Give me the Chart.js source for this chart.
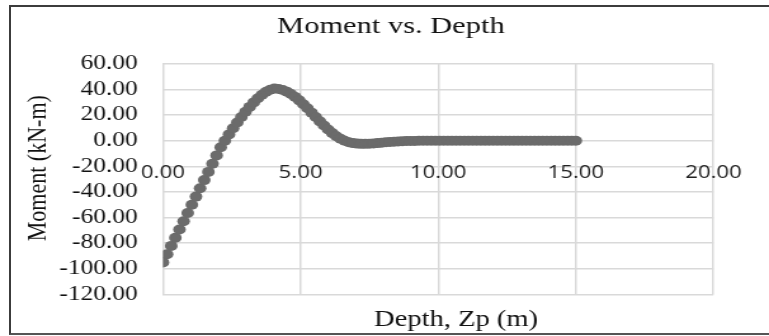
<!DOCTYPE html>
<html>
<head>
<meta charset="utf-8">
<script src="https://cdn.jsdelivr.net/npm/chart.js@4"></script>
<style>
  body { margin: 0; background: #fff; overflow: hidden; }
  #box {
    position: absolute; left: 0; top: 0;
    width: 606px; height: 336px;
    transform: scaleX(1.269); transform-origin: 0 0;
  }
  #frame {
    position: absolute; left: 9px; top: 5px; width: 800px; height: 326px;
    border-left: 2px solid #3c3c3c; border-top: 2px solid #3c3c3c; border-bottom: 2px solid #555;
    pointer-events: none;
  }
</style>
</head>
<body>
<div id="box"><canvas id="momentChart"></canvas></div>
<div id="frame"></div>
<script>
// depth (m), 0.15 m steps
const depth = [
  0, 0.15, 0.3, 0.45, 0.6, 0.75, 0.9, 1.05, 1.2, 1.35,
  1.5, 1.65, 1.8, 1.95, 2.1, 2.25, 2.4, 2.55, 2.7, 2.85,
  3, 3.15, 3.3, 3.45, 3.6, 3.75, 3.9, 4.05, 4.2, 4.35,
  4.5, 4.65, 4.8, 4.95, 5.1, 5.25, 5.4, 5.55, 5.7, 5.85,
  6, 6.15, 6.3, 6.45, 6.6, 6.75, 6.9, 7.05, 7.2, 7.35,
  7.5, 7.65, 7.8, 7.95, 8.1, 8.25, 8.4, 8.55, 8.7, 8.85,
  9, 9.15, 9.3, 9.45, 9.6, 9.75, 9.9, 10.05, 10.2, 10.35,
  10.5, 10.65, 10.8, 10.95, 11.1, 11.25, 11.4, 11.55, 11.7, 11.85,
  12, 12.15, 12.3, 12.45, 12.6, 12.75, 12.9, 13.05, 13.2, 13.35,
  13.5, 13.65, 13.8, 13.95, 14.1, 14.25, 14.4, 14.55, 14.7, 14.85,
  15
];

// moment (kN-m)
const moment = [
  -95.0, -88.6, -82.1, -75.7, -69.3, -62.9, -56.4, -50.0, -43.6, -37.1,
  -30.7, -24.3, -17.9, -11.4, -5.0, 0.1, 5.0, 9.8, 14.3, 18.6,
  22.7, 26.5, 30.0, 33.2, 36.0, 38.3, 39.9, 40.8, 40.5, 39.7,
  38.4, 36.6, 34.3, 31.6, 28.6, 25.4, 22.0, 18.6, 15.2, 11.9,
  8.8, 6.0, 3.6, 1.6, 0.0, -1.1, -1.8, -2.2, -2.4, -2.4,
  -2.3, -2.1, -1.8, -1.5, -1.2, -0.9, -0.7, -0.5, -0.3, -0.2,
  -0.1, -0.1, 0.0, 0.0, 0.0, 0.0, 0.0, 0.0, 0.0, 0.0,
  0.0, 0.0, 0.0, 0.0, 0.0, 0.0, 0.0, 0.0, 0.0, 0.0,
  0.0, 0.0, 0.0, 0.0, 0.0, 0.0, 0.0, 0.0, 0.0, 0.0,
  0.0, 0.0, 0.0, 0.0, 0.0, 0.0, 0.0, 0.0, 0.0, 0.0,
  0.0
];

const xTicks = [0, 5, 10, 15, 20];
const yTicks = [-120, -100, -80, -60, -40, -20, 0, 20, 40, 60];

const serif = "'Liberation Serif', 'Times New Roman', serif";
const gridColor = "#d9d9d9";

function plotMoment() {
  let ctx = document.getElementById("momentChart").getContext("2d");
  let points = depth.map((z, i) => ({ x: z, y: moment[i] }));

  new Chart(ctx, {
    type: "scatter",
    data: {
      datasets: [
        {
          data: points,
          showLine: false,
          pointRadius: 5,
          pointBackgroundColor: "#6b6b6b",
          pointBorderColor: "#6b6b6b",
          pointBorderWidth: 0,
        },
      ],
    },
    options: {
      responsive: true,
      maintainAspectRatio: false,
      animation: false,
      events: [],
      layout: {
        // uneven left/right padding so the title sits where the original has it
        padding: { left: 36.8, right: 26.8, top: 0, bottom: 2.6 },
      },
      plugins: {
        legend: { display: false },
        tooltip: { enabled: false },
        title: {
          display: true,
          text: "Moment vs. Depth",
          color: "#111",
          font: { family: serif, size: 24, weight: "normal" },
          padding: { top: 12.6, bottom: 22.6 },
        },
        subtitle: {
          display: true,
          position: "bottom",
          fullSize: false,
          text: "     Depth, Zp (m)",
          color: "#111",
          font: { family: serif, size: 22.5, weight: "normal" },
          padding: { top: 12, bottom: 0 },
        },
      },
      scales: {
        x: {
          type: "linear",
          position: { y: 0 },
          min: xTicks[0],
          max: xTicks[xTicks.length - 1],
          afterBuildTicks: (scale) => {
            scale.ticks = xTicks.map((v) => ({ value: v }));
          },
          grid: { color: gridColor, lineWidth: 1.5, drawTicks: false },
          border: { display: false },
          ticks: {
            maxRotation: 0,
            autoSkip: false,
            padding: 21.5,
            color: "#222",
            font: { family: "'Open Sans', sans-serif", size: 17.5 },
            callback: (v) => v.toFixed(2),
          },
        },
        y: {
          min: yTicks[0],
          max: yTicks[yTicks.length - 1],
          afterBuildTicks: (scale) => {
            scale.ticks = yTicks.map((v) => ({ value: v }));
          },
          afterFit: (scale) => {
            scale.width = 91.6;
          },
          grid: { color: gridColor, lineWidth: 1.5, drawTicks: false },
          border: { display: false },
          ticks: {
            autoSkip: false,
            padding: 20,
            color: "#111",
            font: { family: serif, size: 20 },
            callback: (v) => v.toFixed(2),
          },
          title: {
            display: true,
            text: "    Moment (kN-m)",
            color: "#111",
            font: { family: serif, size: 22 },
            padding: { top: -20.1, bottom: 0 },
          },
        },
      },
    },
  });
}

plotMoment();
</script>
</body>
</html>
